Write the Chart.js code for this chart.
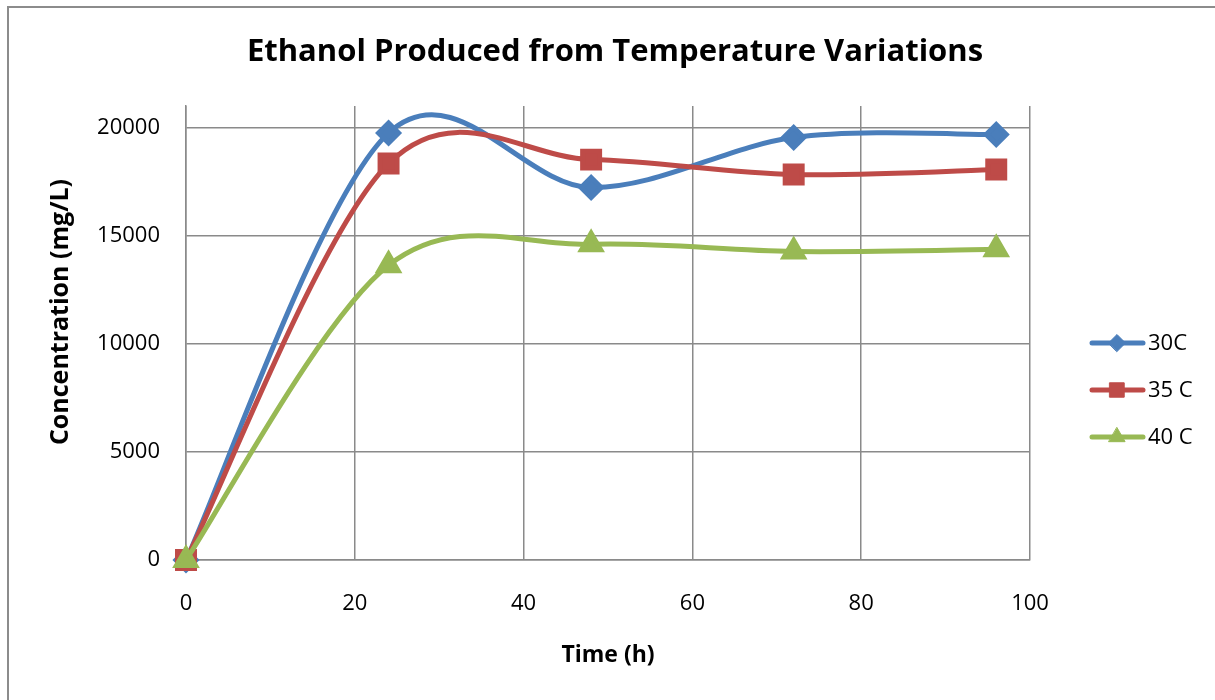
<!DOCTYPE html>
<html>
<head>
<meta charset="utf-8">
<script src="https://cdn.jsdelivr.net/npm/chart.js@4"></script>
<style>
    body { margin: 0; background: #fff; }
    #marco { position: absolute; left: 7px; top: 6px; width: 1215px; height: 700px; border: 2px solid #8c8c8c; }
    #Grafico { position: absolute; left: 0; top: 0; }
</style>
</head>
<body>
<div id="marco"></div>
<canvas id="Grafico" width="1215" height="700"></canvas>
<script>
const horas = [0, 24, 48, 72, 96];
const serie_30 = [0, 19750, 17230, 19540, 19680];
const serie_35 = [0, 18340, 18520, 17830, 18060];
const serie_40 = [0, 13630, 14600, 14270, 14370];
const nombres = ['30C', '35 C', '40 C'];
const ticks_x = [0, 20, 40, 60, 80, 100];
const ticks_y = [0, 5000, 10000, 15000, 20000];
const titulo = 'Ethanol Produced from Temperature Variations';
const titulo_x = 'Time (h)';
const titulo_y = 'Concentration (mg/L)';

const fuente = "'Open Sans', 'DejaVu Sans', sans-serif";

function armarPuntos(valores){
    const puntos = [];
    for(let i = 0; i < horas.length; i++){
        puntos.push({x: horas[i], y: valores[i]});
    }
    return puntos;
}

// curvas suavizadas como excel (catmull-rom) sobre los puntos que ya ubico chart.js
const suavizado = {
    id: 'suavizado',
    beforeDatasetsDraw(chart){
        chart.data.datasets.forEach((ds, i) => {
            const meta = chart.getDatasetMeta(i);
            meta.dataset.updateControlPoints(chart.chartArea, 'x');
            const pts = meta.data;
            for(let j = 0; j < pts.length; j++){
                const ant = pts[Math.max(j - 1, 0)];
                const sig = pts[Math.min(j + 1, pts.length - 1)];
                const dx = (sig.x - ant.x) / 6;
                const dy = (sig.y - ant.y) / 6;
                pts[j].cp1x = pts[j].x - dx;
                pts[j].cp1y = pts[j].y - dy;
                pts[j].cp2x = pts[j].x + dx;
                pts[j].cp2y = pts[j].y + dy;
            }
        });
    }
};

// titulo, titulo del eje y, y leyenda a la derecha con linea + marcador
const textos = {
    id: 'textos',
    afterDraw(chart){
        const ctx = chart.ctx;
        ctx.save();
        ctx.fillStyle = '#000';
        ctx.textAlign = 'center';
        ctx.textBaseline = 'middle';
        ctx.font = 'bold 31px ' + fuente;
        ctx.fillText(titulo, 615, 52);
        ctx.translate(61, 312);
        ctx.rotate(-Math.PI / 2);
        ctx.font = 'bold 25px ' + fuente;
        ctx.fillText(titulo_y, 0, 0);
        ctx.restore();

        const filas = [343, 390, 437];
        chart.data.datasets.forEach((ds, i) => {
            const y = filas[i];
            ctx.save();
            ctx.strokeStyle = ds.borderColor;
            ctx.lineWidth = 5;
            ctx.lineCap = 'round';
            ctx.beginPath();
            ctx.moveTo(1092, y);
            ctx.lineTo(1143, y);
            ctx.stroke();
            ctx.fillStyle = ds.backgroundColor;
            ctx.strokeStyle = ds.borderColor;
            ctx.lineWidth = 1;
            Chart.helpers.drawPoint(ctx, {pointStyle: ds.pointStyle, radius: ds.pointRadius * 0.85, borderWidth: 1}, 1117, y);
            ctx.fillStyle = '#000';
            ctx.font = '22px ' + fuente;
            ctx.textBaseline = 'middle';
            ctx.fillText(nombres[i], 1148, y + 1);
            ctx.restore();
        });
    }
};

const ctx = document.getElementById('Grafico');

new Chart(ctx, {
    type: 'line',
    data: {
        datasets: [{
            label: nombres[0],
            data: armarPuntos(serie_30),
            borderColor: '#4a7ebb',
            backgroundColor: '#4a7ebb',
            borderWidth: 5,
            pointStyle: 'rectRot',
            pointRadius: 10,
            clip: false,
            order: 3
        }, {
            label: nombres[1],
            data: armarPuntos(serie_35),
            borderColor: '#be4b48',
            backgroundColor: '#be4b48',
            borderWidth: 5,
            pointStyle: 'rect',
            pointRadius: 12,
            clip: false,
            order: 2
        }, {
            label: nombres[2],
            data: armarPuntos(serie_40),
            borderColor: '#98b954',
            backgroundColor: '#98b954',
            borderWidth: 5,
            pointStyle: 'triangle',
            pointRadius: 11,
            clip: false,
            order: 1
        }]
    },
    plugins: [suavizado, textos],
    options: {
        responsive: false,
        animation: false,
        events: [],
        layout: { padding: { left: 0, right: 185, top: 106, bottom: 0 } },
        elements: {
            line: { tension: 0.4, capBezierPoints: false },
            point: { borderWidth: 2 }
        },
        plugins: {
            legend: { display: false },
            tooltip: { enabled: false },
            title: { display: false }
        },
        scales: {
            x: {
                type: 'linear',
                min: 0,
                max: 100,
                afterBuildTicks: (eje) => { eje.ticks = ticks_x.map(v => ({value: v})); },
                afterFit: (eje) => { eje.height = 140; },
                grid: { color: '#8a8a8a', lineWidth: 1.5, drawTicks: false },
                border: { color: '#8a8a8a', width: 1.5 },
                ticks: { color: '#000', padding: 31, font: { family: fuente, size: 22 }, callback: (v) => String(v) },
                title: {
                    display: true,
                    text: titulo_x,
                    color: '#000',
                    font: { family: fuente, size: 23, weight: 'bold' },
                    padding: { top: 0, bottom: 31 }
                }
            },
            y: {
                min: 0,
                max: 21000,
                afterBuildTicks: (eje) => { eje.ticks = ticks_y.map(v => ({value: v})); },
                afterFit: (eje) => { eje.width = 186; },
                grid: { color: '#8a8a8a', lineWidth: 1.5, drawTicks: false },
                border: { color: '#8a8a8a', width: 1.5 },
                ticks: { color: '#000', padding: 26, font: { family: fuente, size: 22 }, callback: (v) => String(v) }
            }
        }
    }
});
</script>
</body>
</html>
